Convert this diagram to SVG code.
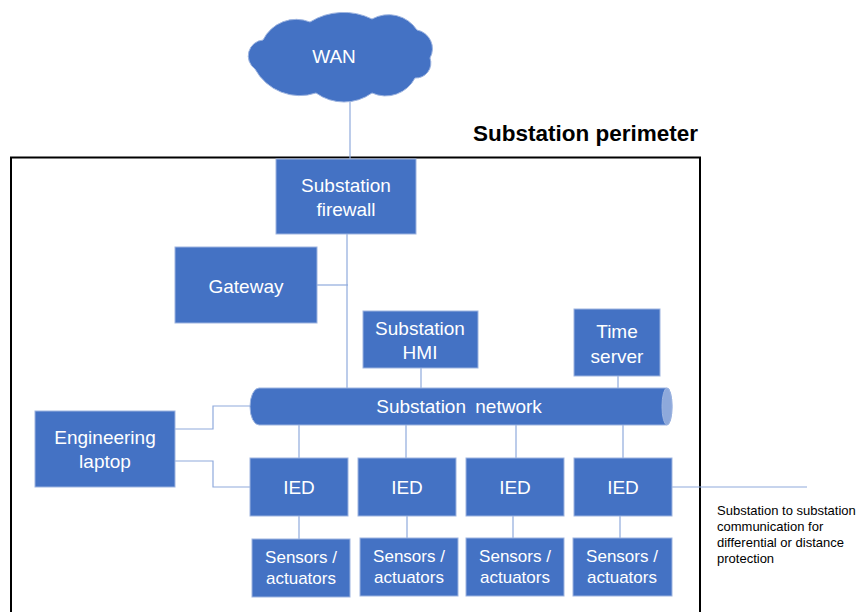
<svg xmlns="http://www.w3.org/2000/svg" width="858" height="612" viewBox="0 0 858 612">
  <style>
    .box { fill: #4472C4; stroke: #9DB4E0; stroke-width: 1; }
    .lbl { font-family: "Liberation Sans", Arial, sans-serif; font-size: 19px; fill: #FFFFFF; text-anchor: middle; }
    .sm { font-size: 17px; }
    .link { fill: none; stroke: #8FAADC; stroke-width: 1.2; }
  </style>
  <rect width="858" height="612" fill="#FFFFFF"/>

  <!-- perimeter boundary -->
  <g id="perimeter">
    <path d="M11,612 V157.5 H700 V612" fill="none" stroke="#000000" stroke-width="2"/>
    <text x="698" y="141" font-family="Liberation Sans, Arial, sans-serif" font-size="22.5" font-weight="bold" text-anchor="end" fill="#000000">Substation perimeter</text>
  </g>

  <!-- connectors -->
  <g id="connectors" class="link">
    <path d="M350,100 V160"/>
    <path d="M347,233 V388"/>
    <path d="M317,285 H348"/>
    <path d="M421,368 V388"/>
    <path d="M618,376 V388"/>
    <path d="M299,425 V458"/>
    <path d="M406,425 V458"/>
    <path d="M516,425 V458"/>
    <path d="M623,425 V458"/>
    <path d="M299,516 V539"/>
    <path d="M407,516 V539"/>
    <path d="M513,516 V539"/>
    <path d="M620,516 V539"/>
    <path d="M175,429 H213 V406 H252"/>
    <path d="M175,461 H213 V487 H250"/>
    <path d="M672,487 H807"/>
  </g>

  <g id="wan">
    <path class="box" d="M263,40 A37,37 0 0 1 310,22 A64,64 0 0 1 372,19 A34,34 0 0 1 417,30 A19,19 0 0 1 430,58 A15,15 0 0 1 415,78 A33,33 0 0 1 372,93 A48,48 0 0 1 316,93 A51,51 0 0 1 255,69 A16,16 0 0 1 263,40 Z"/>
    <text class="lbl" x="334" y="63">WAN</text>
  </g>

  <g id="firewall">
    <rect class="box" x="276" y="159" width="140" height="75"/>
    <text class="lbl" x="346" y="192">Substation</text>
    <text class="lbl" x="346" y="216">firewall</text>
  </g>

  <g id="gateway">
    <rect class="box" x="175" y="247" width="142" height="76"/>
    <text class="lbl" x="246" y="293">Gateway</text>
  </g>

  <g id="hmi">
    <rect class="box" x="363" y="311" width="115" height="57"/>
    <text class="lbl" x="420" y="335">Substation</text>
    <text class="lbl" x="420" y="359">HMI</text>
  </g>

  <g id="time-server">
    <rect class="box" x="574" y="309" width="86" height="67"/>
    <text class="lbl" x="617" y="338">Time</text>
    <text class="lbl" x="617" y="363">server</text>
  </g>

  <g id="network">
    <path class="box" d="M259,388 H667 A5,18.5 0 0 1 667,425 H259 A9,18.5 0 0 1 259,388 Z"/>
    <ellipse cx="667" cy="406.5" rx="5" ry="18.5" fill="#8EA9DB" stroke="#9DB4E0" stroke-width="1"/>
    <text class="lbl" x="459" y="413" word-spacing="4">Substation network</text>
  </g>

  <g id="laptop">
    <rect class="box" x="35" y="411" width="140" height="76"/>
    <text class="lbl" x="105" y="444">Engineering</text>
    <text class="lbl" x="105" y="468">laptop</text>
  </g>

  <g id="ied-1">
    <rect class="box" x="250" y="458" width="98" height="58"/>
    <text class="lbl" x="299" y="494">IED</text>
  </g>
  <g id="ied-2">
    <rect class="box" x="358" y="458" width="98" height="58"/>
    <text class="lbl" x="407" y="494">IED</text>
  </g>
  <g id="ied-3">
    <rect class="box" x="466" y="458" width="98" height="58"/>
    <text class="lbl" x="515" y="494">IED</text>
  </g>
  <g id="ied-4">
    <rect class="box" x="574" y="458" width="98" height="58"/>
    <text class="lbl" x="623" y="494">IED</text>
  </g>

  <g id="sensors-1">
    <rect class="box" x="252" y="539" width="98" height="58"/>
    <text class="lbl sm" x="301" y="563">Sensors /</text>
    <text class="lbl sm" x="301" y="584">actuators</text>
  </g>
  <g id="sensors-2">
    <rect class="box" x="360" y="538" width="98" height="58"/>
    <text class="lbl sm" x="409" y="562">Sensors /</text>
    <text class="lbl sm" x="409" y="583">actuators</text>
  </g>
  <g id="sensors-3">
    <rect class="box" x="466" y="538" width="98" height="58"/>
    <text class="lbl sm" x="515" y="562">Sensors /</text>
    <text class="lbl sm" x="515" y="583">actuators</text>
  </g>
  <g id="sensors-4">
    <rect class="box" x="573" y="538" width="99" height="58"/>
    <text class="lbl sm" x="622" y="562">Sensors /</text>
    <text class="lbl sm" x="622" y="583">actuators</text>
  </g>

  <g id="inter-substation-note" font-family="Liberation Sans, Arial, sans-serif" font-size="13" fill="#000000">
    <text x="717" y="515">Substation to substation</text>
    <text x="717" y="531">communication  for</text>
    <text x="717" y="547">differential or distance</text>
    <text x="717" y="563">protection</text>
  </g>
</svg>
